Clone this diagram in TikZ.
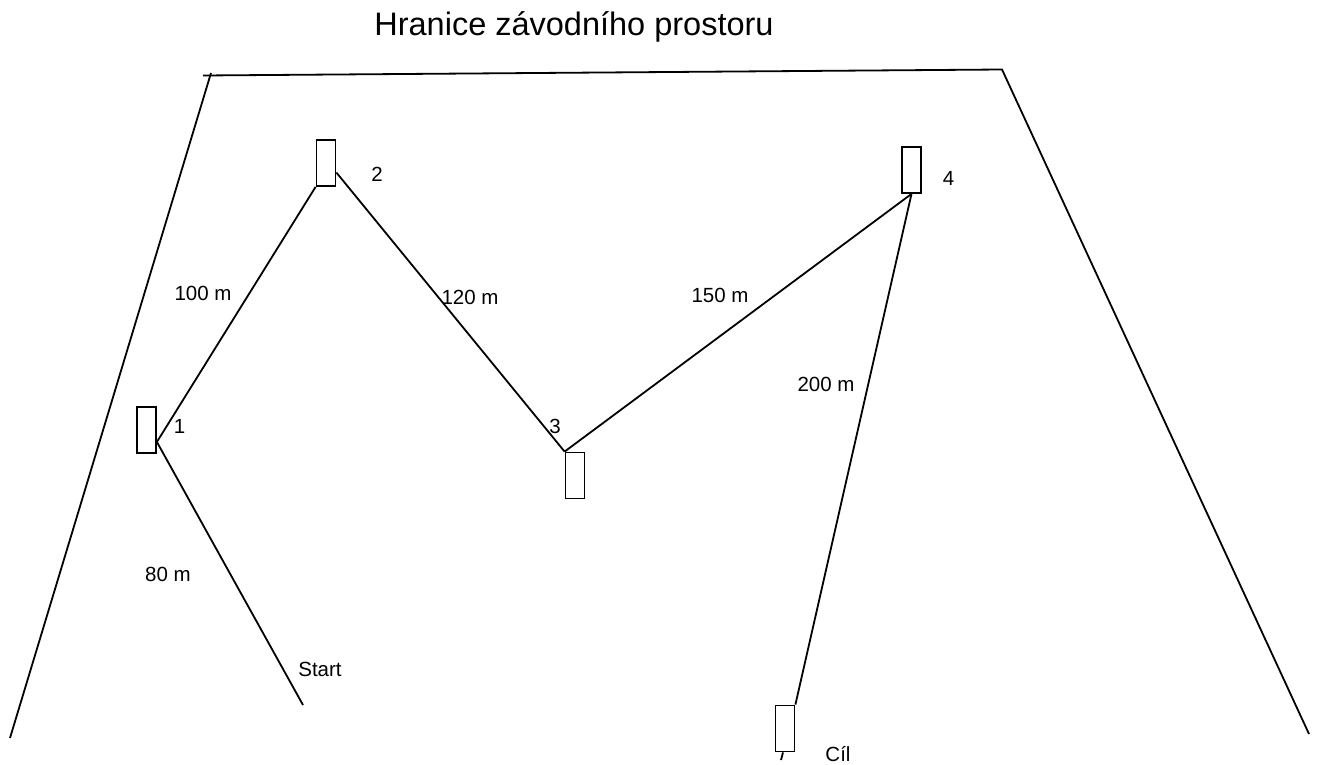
\documentclass[tikz,border=0pt]{standalone}
\usepackage{fontspec}
\setmainfont{Liberation Sans}
\usetikzlibrary{calc}
\begin{document}
\begin{tikzpicture}[x=1pt,y=-1pt,line width=1.8pt,
  post/.style={draw,line width=1.8pt,minimum width=19pt,minimum height=46pt,inner sep=0pt},
  lbl/.style={anchor=base,inner sep=0pt,font=\fontsize{20.5}{24}\selectfont},
  ttl/.style={anchor=base,inner sep=0pt,font=\fontsize{32.5}{38}\selectfont}]
\useasboundingbox (0,0) rectangle (1319,765);
% boundary
\coordinate (bl) at (10,738);
\coordinate (tl) at (211,73);
\coordinate (tlx) at (203,75.5);
\coordinate (tr) at (1002,69.5);
\coordinate (br) at (1309,734);
\draw (bl) -- (tl);
\draw (tlx) -- (tr) -- (br);
\node[ttl] (title) at (574,36) {Hranice závodního prostoru};
% posts
\node[post] (b1) at (146.5,430) {};
\node[post] (b2) at (326,163) {};
\node[post] (b3) at (575,475.5) {};
\node[post] (b4) at (911.5,170) {};
\node[post] (b5) at (785,728.5) {};
\coordinate (start) at (303,705);
\coordinate (tick) at (781,760);
% course
\draw (start) -- ($(b1.south east)!0.25!(b1.north east)$) -- (b2.south west);
\draw ($(b2.south east)!0.3!(b2.north east)$) -- (b3.north west);
\draw (b3.north west) -- (b4.south);
\draw (b4.south) -- (b5.north east);
\draw ($(b5.south)+(-2,0)$) -- (tick);
% labels
\node[lbl] (l1) at (179.5,433) {1};
\node[lbl] (l2) at (377,181.5) {2};
\node[lbl] (l3) at (555,433) {3};
\node[lbl] (l4) at (948.5,185) {4};
\node[lbl] (lcil) at (838,761) {Cíl};
\node[lbl] (lstart) at (320,676) {Start};
\node[lbl] (d80) at (168,581) {80 m};
\node[lbl] (d100) at (203,300.5) {100 m};
\node[lbl] (d120) at (470,304) {120 m};
\node[lbl] (d150) at (720,302) {150 m};
\node[lbl] (d200) at (826,391) {200 m};
\end{tikzpicture}
\end{document}
